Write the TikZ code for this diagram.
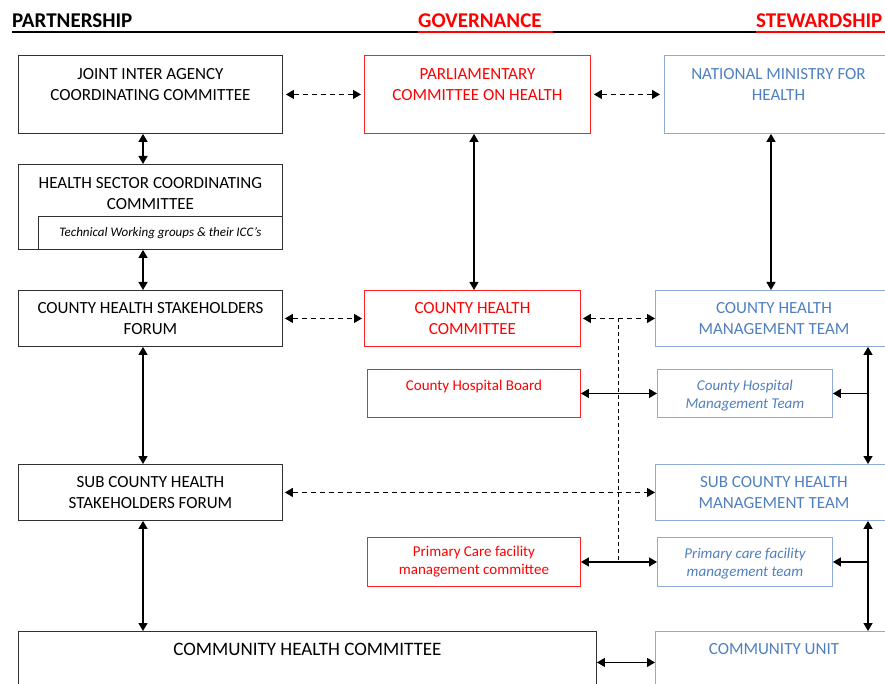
\documentclass[tikz,border=0pt]{standalone}
\usepackage{fontspec}
\setmainfont{Carlito}
\usetikzlibrary{arrows.meta,calc}
\definecolor{bred}{HTML}{FF2020}
\definecolor{tred}{HTML}{FF0000}
\definecolor{bblue}{HTML}{8DAAD8}
\definecolor{tblue}{HTML}{4F7FC0}
\definecolor{bgrey}{HTML}{303030}
\tikzset{
  kbox/.style={draw=bgrey, line width=0.9pt, rectangle, anchor=north west, inner sep=0pt},
  rbox/.style={kbox, draw=bred},
  ubox/.style={kbox, draw=bblue},
  bigf/.style={font=\fontsize{17}{21}\selectfont},
  smf/.style={font=\fontsize{15}{18}\selectfont},
  ktext/.style={align=center, bigf, text=black, inner sep=0pt},
  rtext/.style={ktext, text=tred},
  utext/.style={ktext, text=tblue},
  conn/.style={line width=1.3pt, {Triangle[length=8pt,width=9pt]}-{Triangle[length=8pt,width=9pt]}},
  dconn/.style={conn, dash pattern=on 5pt off 4pt},
  sconn/.style={line width=1.3pt, -{Triangle[length=8pt,width=9pt]}},
  hdr/.style={font=\fontsize{21}{22}\selectfont\bfseries, anchor=base west, inner sep=0pt},
}
\begin{document}
\begin{tikzpicture}[x=1pt,y=-1pt]
\useasboundingbox (0,0) rectangle (885,684);
% headers
\node[hdr] (hp) at (12,28) {PARTNERSHIP};
\node[hdr, text=tred] (hg) at (418,28) {GOVERNANCE};
\node[hdr, text=tred] (hs) at (756,28) {STEWARDSHIP};
\draw[line width=2pt] (12,32) -- (418,32);
\draw[line width=2pt, tred] (418,32) -- (553,32);
\draw[line width=2pt] (553,32) -- (756,32);
\draw[line width=2pt, tred] (756,32) -- (885,32);

% left column
\node[kbox, minimum width=264pt, minimum height=78pt,
  label={[ktext, anchor=north, yshift=-13pt]north:{JOINT INTER AGENCY\\COORDINATING COMMITTEE}}] (jiacc) at (18,55) {};
\node[kbox, minimum width=264pt, minimum height=85pt,
  label={[ktext, anchor=north, yshift=-13pt]north:{HEALTH SECTOR COORDINATING\\COMMITTEE}}] (hscc) at (18,164) {};
\node[kbox, minimum width=244pt, minimum height=33pt, font=\fontsize{13}{15}\selectfont\itshape] (twg) at (38,216) {Technical Working groups \& their ICC’s};
\node[kbox, minimum width=264pt, minimum height=56pt, align=center, bigf] (chsf) at (18,290) {COUNTY HEALTH STAKEHOLDERS\\FORUM};
\node[kbox, minimum width=264pt, minimum height=56pt, align=center, bigf] (schsf) at (18,464) {SUB COUNTY HEALTH\\STAKEHOLDERS FORUM};
\node[kbox, minimum width=578pt, minimum height=80pt,
  label={[ktext, anchor=north, yshift=-12pt, font=\fontsize{19}{22}\selectfont]north:{COMMUNITY HEALTH COMMITTEE}}] (comhc) at (18,631) {};

% middle column
\node[rbox, minimum width=226pt, minimum height=78pt,
  label={[rtext, anchor=north, yshift=-13pt]north:{PARLIAMENTARY\\COMMITTEE ON HEALTH}}] (parl) at (364,55) {};
\node[rbox, minimum width=216pt, minimum height=56pt, align=center, text=tred, bigf] (chc) at (364,290) {COUNTY HEALTH\\COMMITTEE};
\node[rbox, minimum width=213pt, minimum height=48pt,
  label={[rtext, anchor=north, yshift=-11pt, smf]north:{County Hospital Board}}] (chb) at (367,369) {};
\node[rbox, minimum width=213pt, minimum height=49pt, align=center, text=tred, smf] (pcc) at (367,537) {Primary Care facility\\management committee};

% right column
\node[ubox, minimum width=228pt, minimum height=78pt,
  label={[utext, anchor=north, yshift=-13pt]north:{NATIONAL MINISTRY FOR\\HEALTH}}] (nmh) at (664,55) {};
\node[ubox, minimum width=237pt, minimum height=56pt, align=center, text=tblue, bigf] (chmt) at (655,290) {COUNTY HEALTH\\MANAGEMENT TEAM};
\node[ubox, minimum width=175pt, minimum height=48pt,
  label={[utext, anchor=north, yshift=-11pt, font=\fontsize{15}{18}\selectfont\itshape]north:{County Hospital\\Management Team}}] (chosp) at (657,369) {};
\node[ubox, minimum width=237pt, minimum height=56pt, align=center, text=tblue, bigf] (schmt) at (655,464) {SUB COUNTY HEALTH\\MANAGEMENT TEAM};
\node[ubox, minimum width=175pt, minimum height=49pt,
  label={[utext, anchor=north, yshift=-11pt, font=\fontsize{15}{18}\selectfont\itshape]north:{Primary care facility\\management team}}] (pct) at (657,537) {};
\node[ubox, minimum width=237pt, minimum height=80pt,
  label={[utext, anchor=north, yshift=-12pt, font=\fontsize{17}{20}\selectfont]north:{COMMUNITY UNIT}}] (cu) at (655,631) {};

% left vertical connectors
\coordinate (lx) at (143,0);
\draw[conn] (lx |- jiacc.south) -- (lx |- hscc.north);
\draw[conn] (lx |- hscc.south) -- (lx |- chsf.north);
\draw[conn] (lx |- chsf.south) -- (lx |- schsf.north);
\draw[conn] (lx |- schsf.south) -- (lx |- comhc.north);

% middle/right verticals
\coordinate (mx) at (474,0);
\coordinate (nx) at (771,0);
\draw[conn] (mx |- parl.south) -- (mx |- chc.north);
\draw[conn] (nx |- nmh.south) -- (nx |- chmt.north);

% horizontal dashed
\draw[dconn, shorten <=3pt, shorten >=3pt] (jiacc.east) -- (parl.west);
\draw[dconn, shorten <=3pt, shorten >=4pt] (parl.east) -- (parl.east -| nmh.west);
\draw[dconn, shorten <=2pt, shorten >=2pt] (chsf.east) -- (chc.west);
\draw[dconn, shorten <=2pt] (chc.east) -- (chmt.west);
\draw[dconn, shorten <=2pt] (schsf.east) -- (schmt.west);

% horizontal solid
\draw[conn] (chb.east) -- (chosp.west);
\draw[conn] (pcc.east) -- (pct.west);
\coordinate (c1) at ([yshift=9pt]comhc.east |- cu.west);
\draw[conn] (c1) -- (c1 -| cu.west);

% dashed vertical
\coordinate (dv) at (618,0);
\draw[line width=0.8pt, dash pattern=on 4pt off 3pt] (dv |- chc.east) -- (dv |- pcc.east);

% right bus
\coordinate (rv) at (868,0);
\draw[conn] (rv |- chmt.south) -- (rv |- schmt.north);
\draw[conn] (rv |- schmt.south) -- (rv |- cu.north);
\draw[sconn] (rv |- chosp.east) -- (chosp.east);
\draw[sconn] (rv |- pct.east) -- (pct.east);
\end{tikzpicture}
\end{document}
